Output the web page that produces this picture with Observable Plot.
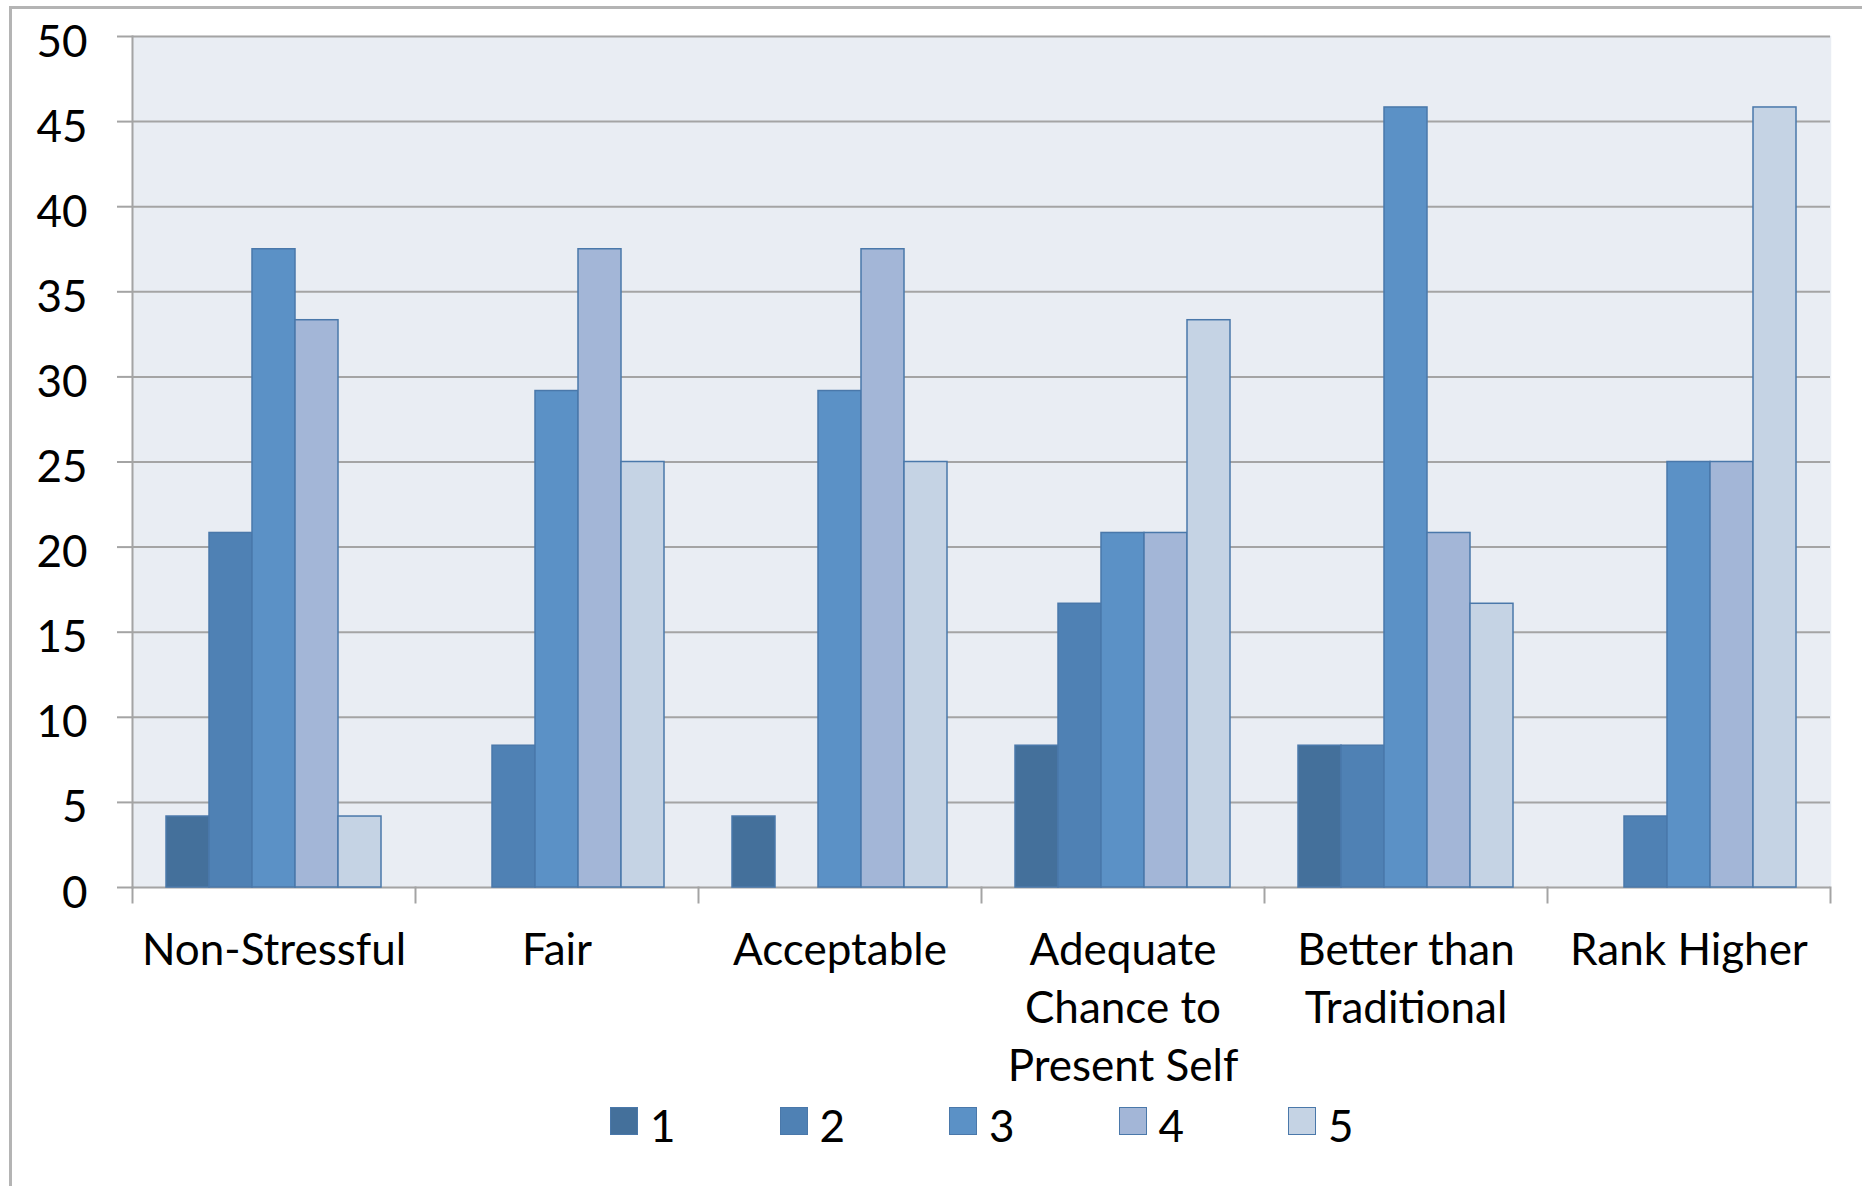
<!DOCTYPE html>
<html>
<head>
<meta charset="utf-8">
<script src="https://cdn.jsdelivr.net/npm/d3@7"></script>
<script src="https://cdn.jsdelivr.net/npm/@observablehq/plot@0.6"></script>
<style>
html, body { margin: 0; padding: 0; background: #fff; overflow: hidden; width: 1862px; height: 1186px; }
#border { position: absolute; left: 9px; top: 6px; width: 1900px; height: 1220px; border-left: 3px solid #b4b4b4; border-top: 3px solid #b4b4b4; }
#chart { position: absolute; left: 0; top: 0; }
#legend { position: absolute; left: 610px; top: 1107px; display: flex; font-family: Lato, sans-serif; font-size: 44px; color: #000; }
.item { display: flex; align-items: center; width: 169.5px; height: 28px; }
.sw { width: 28px; height: 28px; box-sizing: border-box; border: 1.5px solid #4a78aa; margin-right: 12px; flex: none; }
.lab { line-height: 1; position: relative; top: 4px; }
</style>
</head>
<body>
<div id="border"></div>
<div id="chart"></div>
<div id="legend"></div>
<script>
const categories = ["Non-Stressful", "Fair", "Acceptable", "Adequate\nChance to\nPresent Self", "Better than\nTraditional", "Rank Higher"];
const levels = ["1", "2", "3", "4", "5"];
const rating1 = [4.17, 0, 4.17, 8.33, 8.33, 0];
const rating2 = [20.83, 8.33, 0, 16.67, 8.33, 4.17];
const rating3 = [37.5, 29.17, 29.17, 20.83, 45.83, 25];
const rating4 = [33.33, 37.5, 37.5, 20.83, 20.83, 25];
const rating5 = [4.17, 25, 25, 33.33, 16.67, 45.83];
const yTicks = [0, 5, 10, 15, 20, 25, 30, 35, 40, 45, 50];
const colors = ["#44709b", "#4f81b4", "#5b91c6", "#a3b6d7", "#c5d3e4"];

const series = [rating1, rating2, rating3, rating4, rating5];
const data = [];
categories.forEach((cat, i) => {
  levels.forEach((lev, j) => data.push({cat, level: lev, value: series[j][i]}));
});

const grid = "#a4a4a4";
const bg = "#e9edf3";
const chart = Plot.plot({
  width: 1862,
  height: 1100,
  marginLeft: 130,
  marginRight: 30,
  marginTop: 36,
  marginBottom: 213,
  style: {fontFamily: "Lato, sans-serif", fontSize: "44px", color: "#000", background: "transparent", overflow: "visible"},
  fx: {domain: categories, padding: 0, axis: null, label: null},
  x: {domain: levels, paddingInner: 0, paddingOuter: 0.72, axis: null, label: null},
  y: {domain: [0, 50], axis: null, label: null},
  color: {domain: levels, range: colors},
  marks: [
    Plot.frame({fill: bg, stroke: bg, strokeWidth: 1.5}),
    Plot.ruleY(yTicks, {stroke: grid, strokeWidth: 2}),
    Plot.frame({anchor: "left", stroke: grid, strokeWidth: 2, facetAnchor: "left"}),
    Plot.frame({anchor: "left", stroke: grid, strokeWidth: 2, insetTop: 851, insetBottom: -15}),
    Plot.frame({anchor: "right", stroke: grid, strokeWidth: 2, insetTop: 851, insetBottom: -15, facetAnchor: "right"}),
    Plot.axisY({ticks: yTicks, tickSize: 15, tickFormat: () => "", stroke: grid, strokeWidth: 2, label: null}),
    Plot.axisY({ticks: yTicks, tickSize: 0, tickPadding: 45, dy: 6, fontSize: 44, fill: "#000", label: null}),
    Plot.barY(data, {fx: "cat", x: "level", y: "value", fill: "level", stroke: "#4a78aa", strokeWidth: 1.5, filter: d => d.value > 0}),
    Plot.text(categories, {fx: d => d, text: d => d, frameAnchor: "bottom", lineAnchor: "top", dy: 37, lineHeight: 1.31, fontSize: 44, fill: "#000"})
  ]
});
document.getElementById("chart").appendChild(chart);

const legend = document.getElementById("legend");
levels.forEach((lev, j) => {
  const item = document.createElement("div");
  item.className = "item";
  const sw = document.createElement("div");
  sw.className = "sw";
  sw.style.background = colors[j];
  const lab = document.createElement("span");
  lab.className = "lab";
  lab.textContent = lev;
  item.appendChild(sw);
  item.appendChild(lab);
  legend.appendChild(item);
});
</script>
</body>
</html>
